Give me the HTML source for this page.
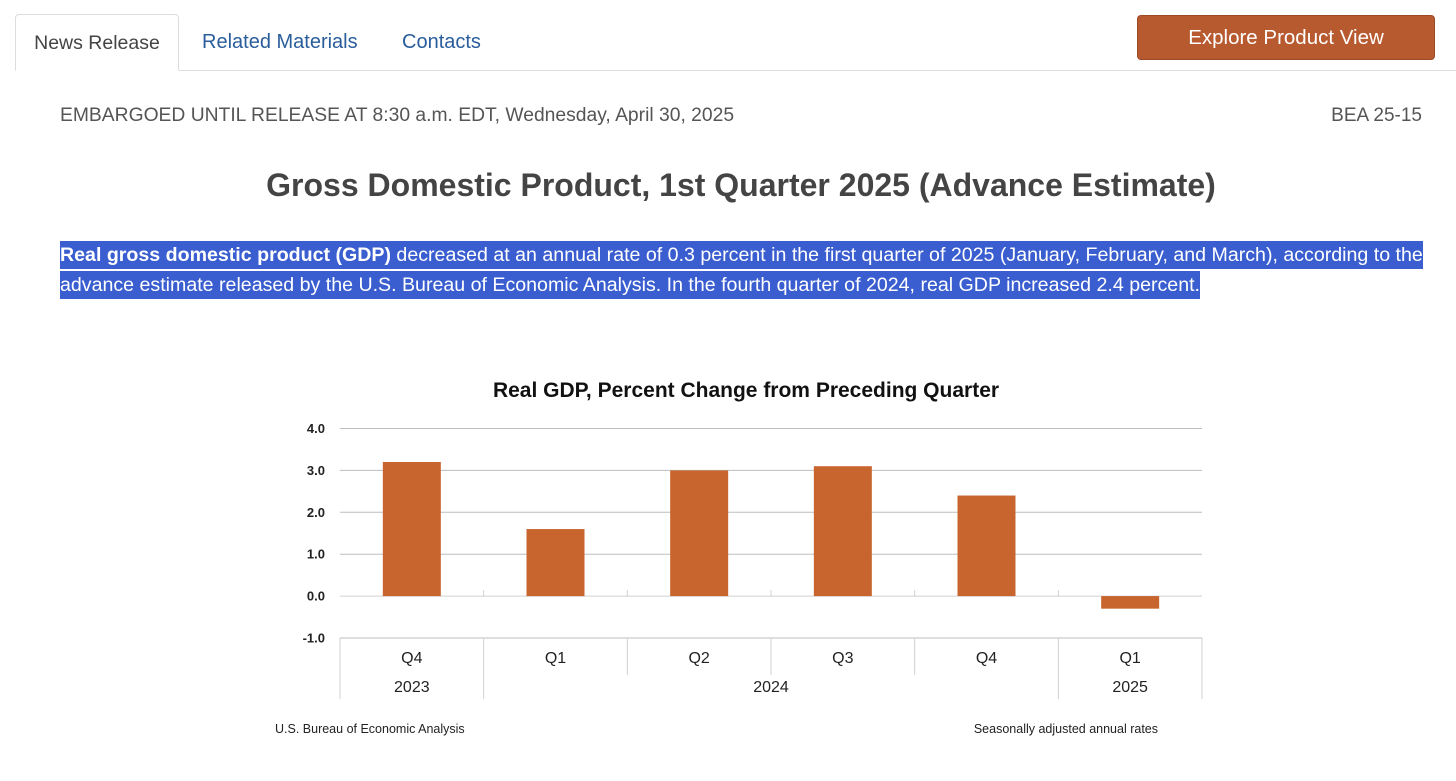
<!DOCTYPE html>
<html><head><meta charset="utf-8">
<style>
body{margin:0;width:1456px;height:781px;background:#fff;font-family:"Liberation Sans",sans-serif;position:relative;overflow:hidden}
.abs{position:absolute;white-space:nowrap}
</style></head><body>
<div class="abs" style="left:15px;top:70px;width:1441px;height:1px;background:#ddd"></div>
<div class="abs" style="left:15px;top:14px;width:164px;height:57px;border:1px solid #ddd;border-bottom:1px solid #fff;border-radius:4px 4px 0 0;background:#fff;box-sizing:border-box;font-size:19.5px;color:#444;text-align:center;line-height:56px">News Release</div>
<div class="abs" style="left:202px;top:31px;font-size:20px;color:#2a5d9b">Related Materials</div>
<div class="abs" style="left:402px;top:31px;font-size:20px;color:#2a5d9b">Contacts</div>
<div class="abs" style="left:1137px;top:15px;width:298px;height:45px;background:#b85a30;border:1px solid #9c4a25;box-sizing:border-box;border-radius:4px;color:#fff;font-size:20.5px;text-align:center;line-height:43px">Explore Product View</div>
<div class="abs" style="left:60px;top:105px;font-size:19.3px;color:#555">EMBARGOED UNTIL RELEASE AT 8:30 a.m. EDT, Wednesday, April 30, 2025</div>
<div class="abs" style="right:34px;top:105px;font-size:19px;color:#555">BEA 25-15</div>
<div class="abs" style="left:0;width:1482px;text-align:center;top:167px;font-size:32px;font-weight:bold;color:#444">Gross Domestic Product, 1st Quarter 2025 (Advance Estimate)</div>
<div class="abs" style="left:60px;top:240px;font-size:19.6px;line-height:30px;color:#fff;white-space:normal;width:1385px">
<span style="background:#3a5ed0;padding:3px 0"><b>Real gross domestic product (GDP)</b> decreased at an annual rate of 0.3 percent in the first quarter of 2025 (January, February, and March), according to the advance estimate released by the U.S. Bureau of Economic Analysis. In the fourth quarter of 2024, real GDP increased 2.4 percent.</span></div>
<svg id="chart" class="abs" style="left:0;top:0" width="1456" height="781"></svg>
<script>
const quarters=["Q4","Q1","Q2","Q3","Q4","Q1"];
const years=["2023","2024","2025"];
const yearSpans=[1,4,1];
const values=[3.2,1.6,3.0,3.1,2.4,-0.3];
const yTicks=[4,3,2,1,0,-1];
const svg=document.getElementById('chart');
const NS='http://www.w3.org/2000/svg';
const L=340,R=1202,yMax=4,yMin=-1,T=428.5,B=638;
const y=v=>T+(yMax-v)*(B-T)/(yMax-yMin);
const cw=(R-L)/quarters.length;
const x=i=>L+i*cw;
function el(tag,attrs,txt){const e=document.createElementNS(NS,tag);for(const k in attrs)e.setAttribute(k,attrs[k]);if(txt!==undefined)e.textContent=txt;svg.appendChild(e);return e;}
const t=el('text',{x:746,y:397,'text-anchor':'middle','font-size':21,'font-weight':'bold',fill:'#111'},'Real GDP, Percent Change from Preceding Quarter');


yTicks.forEach(v=>{
 const g=el('line',{x1:L,x2:R,y1:y(v),y2:y(v),stroke:v===0?'#d0d0d0':'#bdbdbd','stroke-width':1});
 
 
 const lb=el('text',{x:325,y:y(v)+4.5,'text-anchor':'end','font-size':13,'font-weight':'bold',fill:'#222'},v.toFixed(1));
 
 
});
for(let i=1;i<quarters.length;i++){
 el('line',{x1:x(i),x2:x(i),y1:y(0)-6,y2:y(0),stroke:'#d0d0d0'});
}
values.forEach((v,i)=>{
 const cx=x(i)+cw/2;
 const r=el('rect',{x:cx-29,width:58,y:Math.min(y(v),y(0)),height:Math.abs(y(v)-y(0)),fill:'#c8642e'});
 
 
 const q=el('text',{x:cx,y:663,'text-anchor':'middle','font-size':16,fill:'#222'},quarters[i]);
 
 
});
let bounds=[0];yearSpans.forEach(s=>bounds.push(bounds[bounds.length-1]+s));
for(let i=0;i<=quarters.length;i++){
 const yb=bounds.includes(i)?699:675;
 el('line',{x1:x(i),x2:x(i),y1:B,y2:yb,stroke:'#d0d0d0'});
}
years.forEach((yr,j)=>{
 const cx=(x(bounds[j])+x(bounds[j+1]))/2;
 const e=el('text',{x:cx,y:692,'text-anchor':'middle','font-size':16,fill:'#222'},yr);
 
 
});
const s1=el('text',{x:275,y:733,'font-size':12.5,fill:'#222'},'U.S. Bureau of Economic Analysis');


const s2=el('text',{x:1158,y:733,'text-anchor':'end','font-size':12.5,fill:'#222'},'Seasonally adjusted annual rates');


</script>
</body></html>
